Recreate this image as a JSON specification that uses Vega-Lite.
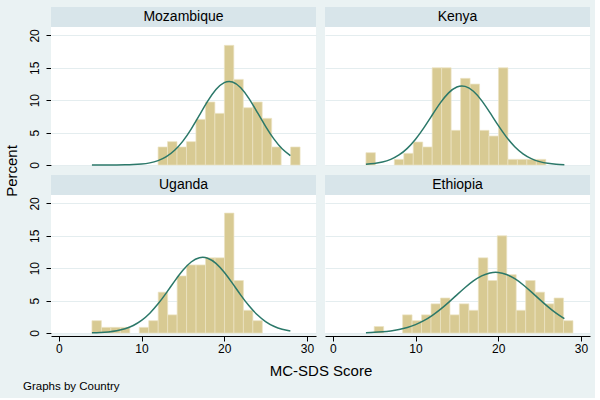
{
  "$schema": "https://vega.github.io/schema/vega-lite/v6.json",
  "background": "#eaf2f3",
  "padding": {"left": 4, "top": 7, "right": 5, "bottom": 5},
  "config": {
    "font": "Liberation Sans",
    "view": {"stroke": null, "fill": "white"},
    "axis": {"labelColor": "black", "titleColor": "black", "tickColor": "black", "domainColor": "black", "titleFontWeight": "normal", "labelFontSize": 12, "titleFontSize": 15, "tickSize": 5, "zindex": 0},
    "header": {"titleFontSize": 15, "titleFontWeight": "normal", "titleColor": "black", "labels": false}
  },
  "title": {"text": "Graphs by Country", "orient": "bottom", "anchor": "start", "fontSize": 11.5, "fontWeight": "normal", "color": "black", "dx": 18, "offset": 2},
  "data": {"values": [
    {"Country": "Mozambique", "kind": "label"},
    {"Country": "Kenya", "kind": "label"},
    {"Country": "Uganda", "kind": "label"},
    {"Country": "Ethiopia", "kind": "label"},
    {"Country": "Mozambique", "kind": "bar", "lo": 12, "hi": 13.145, "percent": 2.78},
    {"Country": "Mozambique", "kind": "bar", "lo": 13.145, "hi": 14.29, "percent": 3.6},
    {"Country": "Mozambique", "kind": "bar", "lo": 14.29, "hi": 15.435, "percent": 2.78},
    {"Country": "Mozambique", "kind": "bar", "lo": 15.435, "hi": 16.58, "percent": 3.6},
    {"Country": "Mozambique", "kind": "bar", "lo": 16.58, "hi": 17.725, "percent": 7.04},
    {"Country": "Mozambique", "kind": "bar", "lo": 17.725, "hi": 18.87, "percent": 9.72},
    {"Country": "Mozambique", "kind": "bar", "lo": 18.87, "hi": 20.015, "percent": 7.97},
    {"Country": "Mozambique", "kind": "bar", "lo": 20.015, "hi": 21.16, "percent": 18.46},
    {"Country": "Mozambique", "kind": "bar", "lo": 21.16, "hi": 22.305, "percent": 13.21},
    {"Country": "Mozambique", "kind": "bar", "lo": 22.305, "hi": 23.45, "percent": 8.84},
    {"Country": "Mozambique", "kind": "bar", "lo": 23.45, "hi": 24.595, "percent": 9.72},
    {"Country": "Mozambique", "kind": "bar", "lo": 24.595, "hi": 25.74, "percent": 7.2},
    {"Country": "Mozambique", "kind": "bar", "lo": 25.74, "hi": 26.885, "percent": 2.78},
    {"Country": "Mozambique", "kind": "bar", "lo": 28.03, "hi": 29.175, "percent": 2.78},
    {"Country": "Kenya", "kind": "bar", "lo": 4, "hi": 5.145, "percent": 1.9},
    {"Country": "Kenya", "kind": "bar", "lo": 7.435, "hi": 8.58, "percent": 0.87},
    {"Country": "Kenya", "kind": "bar", "lo": 8.58, "hi": 9.725, "percent": 1.8},
    {"Country": "Kenya", "kind": "bar", "lo": 9.725, "hi": 10.87, "percent": 3.55},
    {"Country": "Kenya", "kind": "bar", "lo": 10.87, "hi": 12.015, "percent": 2.78},
    {"Country": "Kenya", "kind": "bar", "lo": 12.015, "hi": 13.16, "percent": 15.0},
    {"Country": "Kenya", "kind": "bar", "lo": 13.16, "hi": 14.305, "percent": 15.0},
    {"Country": "Kenya", "kind": "bar", "lo": 14.305, "hi": 15.45, "percent": 5.35},
    {"Country": "Kenya", "kind": "bar", "lo": 15.45, "hi": 16.595, "percent": 13.37},
    {"Country": "Kenya", "kind": "bar", "lo": 16.595, "hi": 17.74, "percent": 12.49},
    {"Country": "Kenya", "kind": "bar", "lo": 17.74, "hi": 18.885, "percent": 5.35},
    {"Country": "Kenya", "kind": "bar", "lo": 18.885, "hi": 20.03, "percent": 4.47},
    {"Country": "Kenya", "kind": "bar", "lo": 20.03, "hi": 21.175, "percent": 15.0},
    {"Country": "Kenya", "kind": "bar", "lo": 21.175, "hi": 22.32, "percent": 0.87},
    {"Country": "Kenya", "kind": "bar", "lo": 22.32, "hi": 23.465, "percent": 0.87},
    {"Country": "Kenya", "kind": "bar", "lo": 23.465, "hi": 24.61, "percent": 0.87},
    {"Country": "Kenya", "kind": "bar", "lo": 24.61, "hi": 25.755, "percent": 0.87},
    {"Country": "Uganda", "kind": "bar", "lo": 4, "hi": 5.145, "percent": 1.9},
    {"Country": "Uganda", "kind": "bar", "lo": 5.145, "hi": 6.29, "percent": 0.87},
    {"Country": "Uganda", "kind": "bar", "lo": 6.29, "hi": 7.435, "percent": 0.87},
    {"Country": "Uganda", "kind": "bar", "lo": 7.435, "hi": 8.58, "percent": 0.87},
    {"Country": "Uganda", "kind": "bar", "lo": 9.725, "hi": 10.87, "percent": 0.87},
    {"Country": "Uganda", "kind": "bar", "lo": 10.87, "hi": 12.015, "percent": 1.9},
    {"Country": "Uganda", "kind": "bar", "lo": 12.015, "hi": 13.16, "percent": 6.3},
    {"Country": "Uganda", "kind": "bar", "lo": 13.16, "hi": 14.305, "percent": 2.8},
    {"Country": "Uganda", "kind": "bar", "lo": 14.305, "hi": 15.45, "percent": 8.8},
    {"Country": "Uganda", "kind": "bar", "lo": 15.45, "hi": 16.595, "percent": 10.5},
    {"Country": "Uganda", "kind": "bar", "lo": 16.595, "hi": 17.74, "percent": 10.5},
    {"Country": "Uganda", "kind": "bar", "lo": 17.74, "hi": 18.885, "percent": 11.6},
    {"Country": "Uganda", "kind": "bar", "lo": 18.885, "hi": 20.03, "percent": 11.6},
    {"Country": "Uganda", "kind": "bar", "lo": 20.03, "hi": 21.175, "percent": 18.5},
    {"Country": "Uganda", "kind": "bar", "lo": 21.175, "hi": 22.32, "percent": 8.1},
    {"Country": "Uganda", "kind": "bar", "lo": 22.32, "hi": 23.465, "percent": 3.5},
    {"Country": "Uganda", "kind": "bar", "lo": 23.465, "hi": 24.61, "percent": 1.9},
    {"Country": "Ethiopia", "kind": "bar", "lo": 5, "hi": 6.145, "percent": 1.0},
    {"Country": "Ethiopia", "kind": "bar", "lo": 8.435, "hi": 9.58, "percent": 2.8},
    {"Country": "Ethiopia", "kind": "bar", "lo": 9.58, "hi": 10.725, "percent": 1.9},
    {"Country": "Ethiopia", "kind": "bar", "lo": 10.725, "hi": 11.87, "percent": 2.8},
    {"Country": "Ethiopia", "kind": "bar", "lo": 11.87, "hi": 13.015, "percent": 4.5},
    {"Country": "Ethiopia", "kind": "bar", "lo": 13.015, "hi": 14.16, "percent": 5.4},
    {"Country": "Ethiopia", "kind": "bar", "lo": 14.16, "hi": 15.305, "percent": 2.8},
    {"Country": "Ethiopia", "kind": "bar", "lo": 15.305, "hi": 16.45, "percent": 4.5},
    {"Country": "Ethiopia", "kind": "bar", "lo": 16.45, "hi": 17.595, "percent": 3.5},
    {"Country": "Ethiopia", "kind": "bar", "lo": 17.595, "hi": 18.74, "percent": 11.6},
    {"Country": "Ethiopia", "kind": "bar", "lo": 18.74, "hi": 19.885, "percent": 8.1},
    {"Country": "Ethiopia", "kind": "bar", "lo": 19.885, "hi": 21.03, "percent": 15.0},
    {"Country": "Ethiopia", "kind": "bar", "lo": 21.03, "hi": 22.175, "percent": 9.0},
    {"Country": "Ethiopia", "kind": "bar", "lo": 22.175, "hi": 23.32, "percent": 3.5},
    {"Country": "Ethiopia", "kind": "bar", "lo": 23.32, "hi": 24.465, "percent": 8.1},
    {"Country": "Ethiopia", "kind": "bar", "lo": 24.465, "hi": 25.61, "percent": 6.3},
    {"Country": "Ethiopia", "kind": "bar", "lo": 25.61, "hi": 26.755, "percent": 4.5},
    {"Country": "Ethiopia", "kind": "bar", "lo": 26.755, "hi": 27.9, "percent": 5.4},
    {"Country": "Ethiopia", "kind": "bar", "lo": 27.9, "hi": 29.045, "percent": 1.9},
    {"Country": "Mozambique", "kind": "curve", "score": 4, "density": 0.0002},
    {"Country": "Mozambique", "kind": "curve", "score": 5, "density": 0.0008},
    {"Country": "Mozambique", "kind": "curve", "score": 6, "density": 0.0026},
    {"Country": "Mozambique", "kind": "curve", "score": 7, "density": 0.008},
    {"Country": "Mozambique", "kind": "curve", "score": 8, "density": 0.023},
    {"Country": "Mozambique", "kind": "curve", "score": 9, "density": 0.06},
    {"Country": "Mozambique", "kind": "curve", "score": 10, "density": 0.146},
    {"Country": "Mozambique", "kind": "curve", "score": 11, "density": 0.326},
    {"Country": "Mozambique", "kind": "curve", "score": 12, "density": 0.675},
    {"Country": "Mozambique", "kind": "curve", "score": 13, "density": 1.287},
    {"Country": "Mozambique", "kind": "curve", "score": 14, "density": 2.269},
    {"Country": "Mozambique", "kind": "curve", "score": 15, "density": 3.69},
    {"Country": "Mozambique", "kind": "curve", "score": 16, "density": 5.546},
    {"Country": "Mozambique", "kind": "curve", "score": 17, "density": 7.69},
    {"Country": "Mozambique", "kind": "curve", "score": 18, "density": 9.85},
    {"Country": "Mozambique", "kind": "curve", "score": 19, "density": 11.65},
    {"Country": "Mozambique", "kind": "curve", "score": 20, "density": 12.72},
    {"Country": "Mozambique", "kind": "curve", "score": 21, "density": 12.82},
    {"Country": "Mozambique", "kind": "curve", "score": 22, "density": 11.93},
    {"Country": "Mozambique", "kind": "curve", "score": 23, "density": 10.25},
    {"Country": "Mozambique", "kind": "curve", "score": 24, "density": 8.13},
    {"Country": "Mozambique", "kind": "curve", "score": 25, "density": 5.96},
    {"Country": "Mozambique", "kind": "curve", "score": 26, "density": 4.03},
    {"Country": "Mozambique", "kind": "curve", "score": 27, "density": 2.52},
    {"Country": "Mozambique", "kind": "curve", "score": 28, "density": 1.45},
    {"Country": "Kenya", "kind": "curve", "score": 4, "density": 0.099},
    {"Country": "Kenya", "kind": "curve", "score": 5, "density": 0.22},
    {"Country": "Kenya", "kind": "curve", "score": 6, "density": 0.452},
    {"Country": "Kenya", "kind": "curve", "score": 7, "density": 0.867},
    {"Country": "Kenya", "kind": "curve", "score": 8, "density": 1.547},
    {"Country": "Kenya", "kind": "curve", "score": 9, "density": 2.571},
    {"Country": "Kenya", "kind": "curve", "score": 10, "density": 3.977},
    {"Country": "Kenya", "kind": "curve", "score": 11, "density": 5.727},
    {"Country": "Kenya", "kind": "curve", "score": 12, "density": 7.676},
    {"Country": "Kenya", "kind": "curve", "score": 13, "density": 9.58},
    {"Country": "Kenya", "kind": "curve", "score": 14, "density": 11.13},
    {"Country": "Kenya", "kind": "curve", "score": 15, "density": 12.04},
    {"Country": "Kenya", "kind": "curve", "score": 16, "density": 12.13},
    {"Country": "Kenya", "kind": "curve", "score": 17, "density": 11.37},
    {"Country": "Kenya", "kind": "curve", "score": 18, "density": 9.93},
    {"Country": "Kenya", "kind": "curve", "score": 19, "density": 8.07},
    {"Country": "Kenya", "kind": "curve", "score": 20, "density": 6.106},
    {"Country": "Kenya", "kind": "curve", "score": 21, "density": 4.3},
    {"Country": "Kenya", "kind": "curve", "score": 22, "density": 2.822},
    {"Country": "Kenya", "kind": "curve", "score": 23, "density": 1.723},
    {"Country": "Kenya", "kind": "curve", "score": 24, "density": 0.98},
    {"Country": "Kenya", "kind": "curve", "score": 25, "density": 0.518},
    {"Country": "Kenya", "kind": "curve", "score": 26, "density": 0.255},
    {"Country": "Kenya", "kind": "curve", "score": 27, "density": 0.117},
    {"Country": "Kenya", "kind": "curve", "score": 28, "density": 0.05},
    {"Country": "Uganda", "kind": "curve", "score": 4, "density": 0.033},
    {"Country": "Uganda", "kind": "curve", "score": 5, "density": 0.077},
    {"Country": "Uganda", "kind": "curve", "score": 6, "density": 0.167},
    {"Country": "Uganda", "kind": "curve", "score": 7, "density": 0.34},
    {"Country": "Uganda", "kind": "curve", "score": 8, "density": 0.65},
    {"Country": "Uganda", "kind": "curve", "score": 9, "density": 1.162},
    {"Country": "Uganda", "kind": "curve", "score": 10, "density": 1.949},
    {"Country": "Uganda", "kind": "curve", "score": 11, "density": 3.06},
    {"Country": "Uganda", "kind": "curve", "score": 12, "density": 4.5},
    {"Country": "Uganda", "kind": "curve", "score": 13, "density": 6.2},
    {"Country": "Uganda", "kind": "curve", "score": 14, "density": 8.0},
    {"Country": "Uganda", "kind": "curve", "score": 15, "density": 9.67},
    {"Country": "Uganda", "kind": "curve", "score": 16, "density": 10.95},
    {"Country": "Uganda", "kind": "curve", "score": 17, "density": 11.62},
    {"Country": "Uganda", "kind": "curve", "score": 18, "density": 11.54},
    {"Country": "Uganda", "kind": "curve", "score": 19, "density": 10.74},
    {"Country": "Uganda", "kind": "curve", "score": 20, "density": 9.36},
    {"Country": "Uganda", "kind": "curve", "score": 21, "density": 7.65},
    {"Country": "Uganda", "kind": "curve", "score": 22, "density": 5.85},
    {"Country": "Uganda", "kind": "curve", "score": 23, "density": 4.19},
    {"Country": "Uganda", "kind": "curve", "score": 24, "density": 2.81},
    {"Country": "Uganda", "kind": "curve", "score": 25, "density": 1.767},
    {"Country": "Uganda", "kind": "curve", "score": 26, "density": 1.04},
    {"Country": "Uganda", "kind": "curve", "score": 27, "density": 0.573},
    {"Country": "Uganda", "kind": "curve", "score": 28, "density": 0.296},
    {"Country": "Ethiopia", "kind": "curve", "score": 4, "density": 0.053},
    {"Country": "Ethiopia", "kind": "curve", "score": 5, "density": 0.1},
    {"Country": "Ethiopia", "kind": "curve", "score": 6, "density": 0.182},
    {"Country": "Ethiopia", "kind": "curve", "score": 7, "density": 0.317},
    {"Country": "Ethiopia", "kind": "curve", "score": 8, "density": 0.529},
    {"Country": "Ethiopia", "kind": "curve", "score": 9, "density": 0.846},
    {"Country": "Ethiopia", "kind": "curve", "score": 10, "density": 1.298},
    {"Country": "Ethiopia", "kind": "curve", "score": 11, "density": 1.91},
    {"Country": "Ethiopia", "kind": "curve", "score": 12, "density": 2.696},
    {"Country": "Ethiopia", "kind": "curve", "score": 13, "density": 3.648},
    {"Country": "Ethiopia", "kind": "curve", "score": 14, "density": 4.733},
    {"Country": "Ethiopia", "kind": "curve", "score": 15, "density": 5.886},
    {"Country": "Ethiopia", "kind": "curve", "score": 16, "density": 7.022},
    {"Country": "Ethiopia", "kind": "curve", "score": 17, "density": 8.032},
    {"Country": "Ethiopia", "kind": "curve", "score": 18, "density": 8.809},
    {"Country": "Ethiopia", "kind": "curve", "score": 19, "density": 9.265},
    {"Country": "Ethiopia", "kind": "curve", "score": 20, "density": 9.342},
    {"Country": "Ethiopia", "kind": "curve", "score": 21, "density": 9.033},
    {"Country": "Ethiopia", "kind": "curve", "score": 22, "density": 8.376},
    {"Country": "Ethiopia", "kind": "curve", "score": 23, "density": 7.447},
    {"Country": "Ethiopia", "kind": "curve", "score": 24, "density": 6.349},
    {"Country": "Ethiopia", "kind": "curve", "score": 25, "density": 5.189},
    {"Country": "Ethiopia", "kind": "curve", "score": 26, "density": 4.068},
    {"Country": "Ethiopia", "kind": "curve", "score": 27, "density": 3.058},
    {"Country": "Ethiopia", "kind": "curve", "score": 28, "density": 2.203}
  ]},
  "transform": [
    {"lookup": "Country", "from": {"data": {"values": [
      {"Country": "Mozambique", "panelRow": 1, "panelCol": 1},
      {"Country": "Kenya", "panelRow": 1, "panelCol": 2},
      {"Country": "Uganda", "panelRow": 2, "panelCol": 1},
      {"Country": "Ethiopia", "panelRow": 2, "panelCol": 2}
    ]}, "key": "Country", "fields": ["panelRow", "panelCol"]}}
  ],
  "facet": {
    "row": {"field": "panelRow", "type": "ordinal", "title": "Percent", "header": {"labels": false, "titleOrient": "left", "titlePadding": -3}},
    "column": {"field": "panelCol", "type": "ordinal", "title": "MC-SDS Score", "header": {"labels": false, "titleOrient": "bottom", "titlePadding": 0}}
  },
  "spacing": {"row": 7, "column": 9},
  "spec": {
    "width": 265,
    "height": 158,
    "encoding": {
      "x": {"type": "quantitative", "scale": {"domain": [-0.95, 31.1], "nice": false, "zero": false}, "axis": {"values": [0, 10, 20, 30], "grid": false, "labelFlush": false, "title": null}},
      "y": {"type": "quantitative", "scale": {"domain": [0, 24.38], "nice": false, "zero": false}, "axis": {"values": [0, 5, 10, 15, 20], "grid": true, "gridColor": "#e4edef", "labelAngle": -90, "labelAlign": "center", "labelBaseline": "bottom", "labelPadding": 5, "title": null}}
    },
    "layer": [
      {
        "transform": [{"filter": "datum.kind === 'label'"}],
        "mark": {"type": "rect", "color": "#d8e5ea"},
        "encoding": {"x": {"datum": -0.95}, "x2": {"datum": 31.1}, "y": {"datum": 21.28}, "y2": {"datum": 24.38}}
      },
      {
        "transform": [{"filter": "datum.kind === 'label'"}],
        "mark": {"type": "text", "fontSize": 14, "color": "black", "baseline": "middle"},
        "encoding": {"x": {"datum": 15.075}, "y": {"datum": 22.83}, "text": {"field": "Country"}}
      },
      {
        "transform": [{"filter": "datum.kind === 'bar'"}],
        "mark": {"type": "rect", "fill": "#d8ca93", "stroke": "#ece4c4", "strokeWidth": 0.7},
        "encoding": {"x": {"field": "lo"}, "x2": {"field": "hi"}, "y": {"field": "percent"}, "y2": {"datum": 0}}
      },
      {
        "transform": [{"filter": "datum.kind === 'curve'"}],
        "mark": {"type": "line", "color": "#2b7869", "strokeWidth": 1.5, "interpolate": "natural"},
        "encoding": {"x": {"field": "score"}, "y": {"field": "density"}}
      }
    ]
  }
}
